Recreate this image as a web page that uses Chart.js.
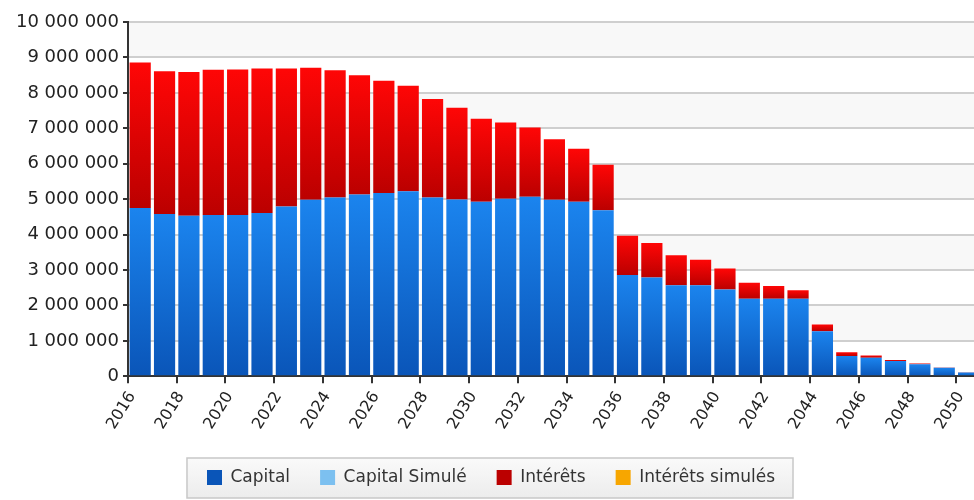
<!DOCTYPE html>
<html lang="fr">
<head>
    <meta charset="UTF-8">
    <title>Capital et intérêts</title>
    <script src="https://cdn.jsdelivr.net/npm/chart.js@4.4.1/dist/chart.umd.min.js"></script>
    <style>
        body { margin: 0; overflow: hidden; background: #fff; }
        #chartContainer { width: 990px; height: 500px; }
    </style>
</head>
<body>
    <div id="chartContainer">
        <canvas></canvas>
    </div>
    <script>
// données
const years = ['2016', '2017', '2018', '2019', '2020', '2021', '2022', '2023', '2024', '2025',
               '2026', '2027', '2028', '2029', '2030', '2031', '2032', '2033', '2034', '2035',
               '2036', '2037', '2038', '2039', '2040', '2041', '2042', '2043', '2044', '2045',
               '2046', '2047', '2048', '2049', '2050'];
const capital = [4750000, 4580000, 4530000, 4550000, 4550000, 4610000, 4790000, 4980000, 5050000, 5130000,
                 5170000, 5220000, 5050000, 4990000, 4930000, 5010000, 5070000, 4980000, 4930000, 4690000,
                 2860000, 2790000, 2570000, 2570000, 2450000, 2190000, 2190000, 2190000, 1270000, 570000,
                 520000, 430000, 340000, 240000, 110000];
const interets = [4110000, 4030000, 4060000, 4100000, 4110000, 4080000, 3900000, 3730000, 3590000, 3370000,
                  3170000, 2980000, 2780000, 2590000, 2340000, 2150000, 1950000, 1710000, 1490000, 1280000,
                  1110000, 970000, 850000, 720000, 590000, 450000, 360000, 240000, 190000, 110000,
                  70000, 30000, 20000, 10000, 5000];
const capitalSimule = [];
const interetsSimules = [];

// formatage 10 000 000
function fmt(v) {
    return String(v).replace(/\B(?=(\d{3})+(?!\d))/g, ' ');
}

// dégradé vertical sur chaque segment de barre
function segmentGradient(top, bottom, flat, base) {
    return function (context) {
        const chart = context.chart;
        const y = chart.scales.y;
        if (context.type !== 'data' || !y || !chart.chartArea) return flat;
        const i = context.dataIndex;
        const start = base ? base[i] : 0;
        const end = start + context.raw;
        const y0 = y.getPixelForValue(end);
        const y1 = y.getPixelForValue(start);
        if (!isFinite(y0) || !isFinite(y1) || y1 - y0 < 1) return flat;
        const g = chart.ctx.createLinearGradient(0, y0, 0, y1);
        g.addColorStop(0, top);
        g.addColorStop(1, bottom);
        return g;
    };
}

// bandes grises alternées + cadre de la légende
const decor = {
    id: 'decor',
    beforeDraw(chart) {
        const ctx = chart.ctx;
        const area = chart.chartArea;
        const y = chart.scales.y;
        ctx.save();
        ctx.fillStyle = '#ffffff';
        ctx.fillRect(0, 0, chart.width, chart.height);
        ctx.fillStyle = '#f8f8f8';
        for (let v = 10000000; v > 0; v -= 2000000) {
            const t = y.getPixelForValue(v);
            const b = y.getPixelForValue(v - 1000000);
            ctx.fillRect(area.left, t, area.right - area.left, b - t);
        }
        const boxes = chart.legend.legendHitBoxes;
        if (boxes && boxes.length) {
            const first = boxes[0];
            const last = boxes[boxes.length - 1];
            const x0 = first.left - 20;
            const x1 = last.left + last.width + 18;
            const y0 = first.top - 11;
            const y1 = first.top + first.height + 12;
            const g = ctx.createLinearGradient(0, y0, 0, y1);
            g.addColorStop(0, '#fafafa');
            g.addColorStop(1, '#ececec');
            ctx.fillStyle = g;
            ctx.fillRect(x0, y0, x1 - x0, y1 - y0);
            ctx.strokeStyle = '#c8c8c8';
            ctx.lineWidth = 1.5;
            ctx.strokeRect(x0, y0, x1 - x0, y1 - y0);
        }
        ctx.restore();
    }
};

const canvas = document.querySelector('#chartContainer canvas');
const chart = new Chart(canvas.getContext('2d'), {
    type: 'bar',
    data: {
        labels: years,
        datasets: [{
            label: 'Capital',
            data: capital,
            backgroundColor: segmentGradient('#1b84ee', '#0a55b8', '#1062cc', null),
            stack: 's'
        }, {
            label: 'Capital Simulé',
            data: capitalSimule,
            backgroundColor: '#7cc0f0',
            stack: 's'
        }, {
            label: 'Intérêts',
            data: interets,
            backgroundColor: segmentGradient('#ff0606', '#bb0000', '#e00000', capital),
            stack: 's'
        }, {
            label: 'Intérêts simulés',
            data: interetsSimules,
            backgroundColor: '#f7a600',
            stack: 's'
        }]
    },
    options: {
        responsive: true,
        maintainAspectRatio: false,
        animation: false,
        datasets: {
            bar: { barPercentage: 0.87, categoryPercentage: 1 }
        },
        layout: {
            padding: { top: 22, right: 8, left: 0, bottom: 4 }
        },
        plugins: {
            tooltip: { enabled: false },
            legend: {
                position: 'bottom',
                labels: {
                    font: { family: 'DejaVu Sans', size: 17 },
                    color: '#333',
                    boxWidth: 15,
                    boxHeight: 15,
                    padding: 30
                }
            }
        },
        scales: {
            x: {
                stacked: true,
                afterFit: (scale) => { scale.height += 1; },
                border: { color: '#333', width: 2 },
                grid: {
                    offset: true,
                    drawOnChartArea: false,
                    tickLength: 7,
                    lineWidth: 2,
                    tickColor: (c) => (c.index % 2 ? 'rgba(0,0,0,0)' : '#333')
                },
                ticks: {
                    autoSkip: false,
                    minRotation: 58,
                    maxRotation: 58,
                    labelOffset: -8,
                    padding: 5,
                    color: '#222',
                    font: { family: 'DejaVu Sans', size: 16 },
                    callback: (v, i) => (i % 2 ? '' : years[i])
                }
            },
            y: {
                stacked: true,
                min: 0,
                max: 10000000,
                afterFit: (scale) => { scale.width = 128; },
                border: { color: '#333', width: 2 },
                grid: {
                    color: '#cfcfcf',
                    lineWidth: 2,
                    tickColor: '#333',
                    tickLength: 5
                },
                ticks: {
                    stepSize: 1000000,
                    padding: 4,
                    color: '#222',
                    font: { family: 'DejaVu Sans', size: 18 },
                    callback: (v) => fmt(v)
                }
            }
        }
    },
    plugins: [decor]
});
    </script>
</body>
</html>
